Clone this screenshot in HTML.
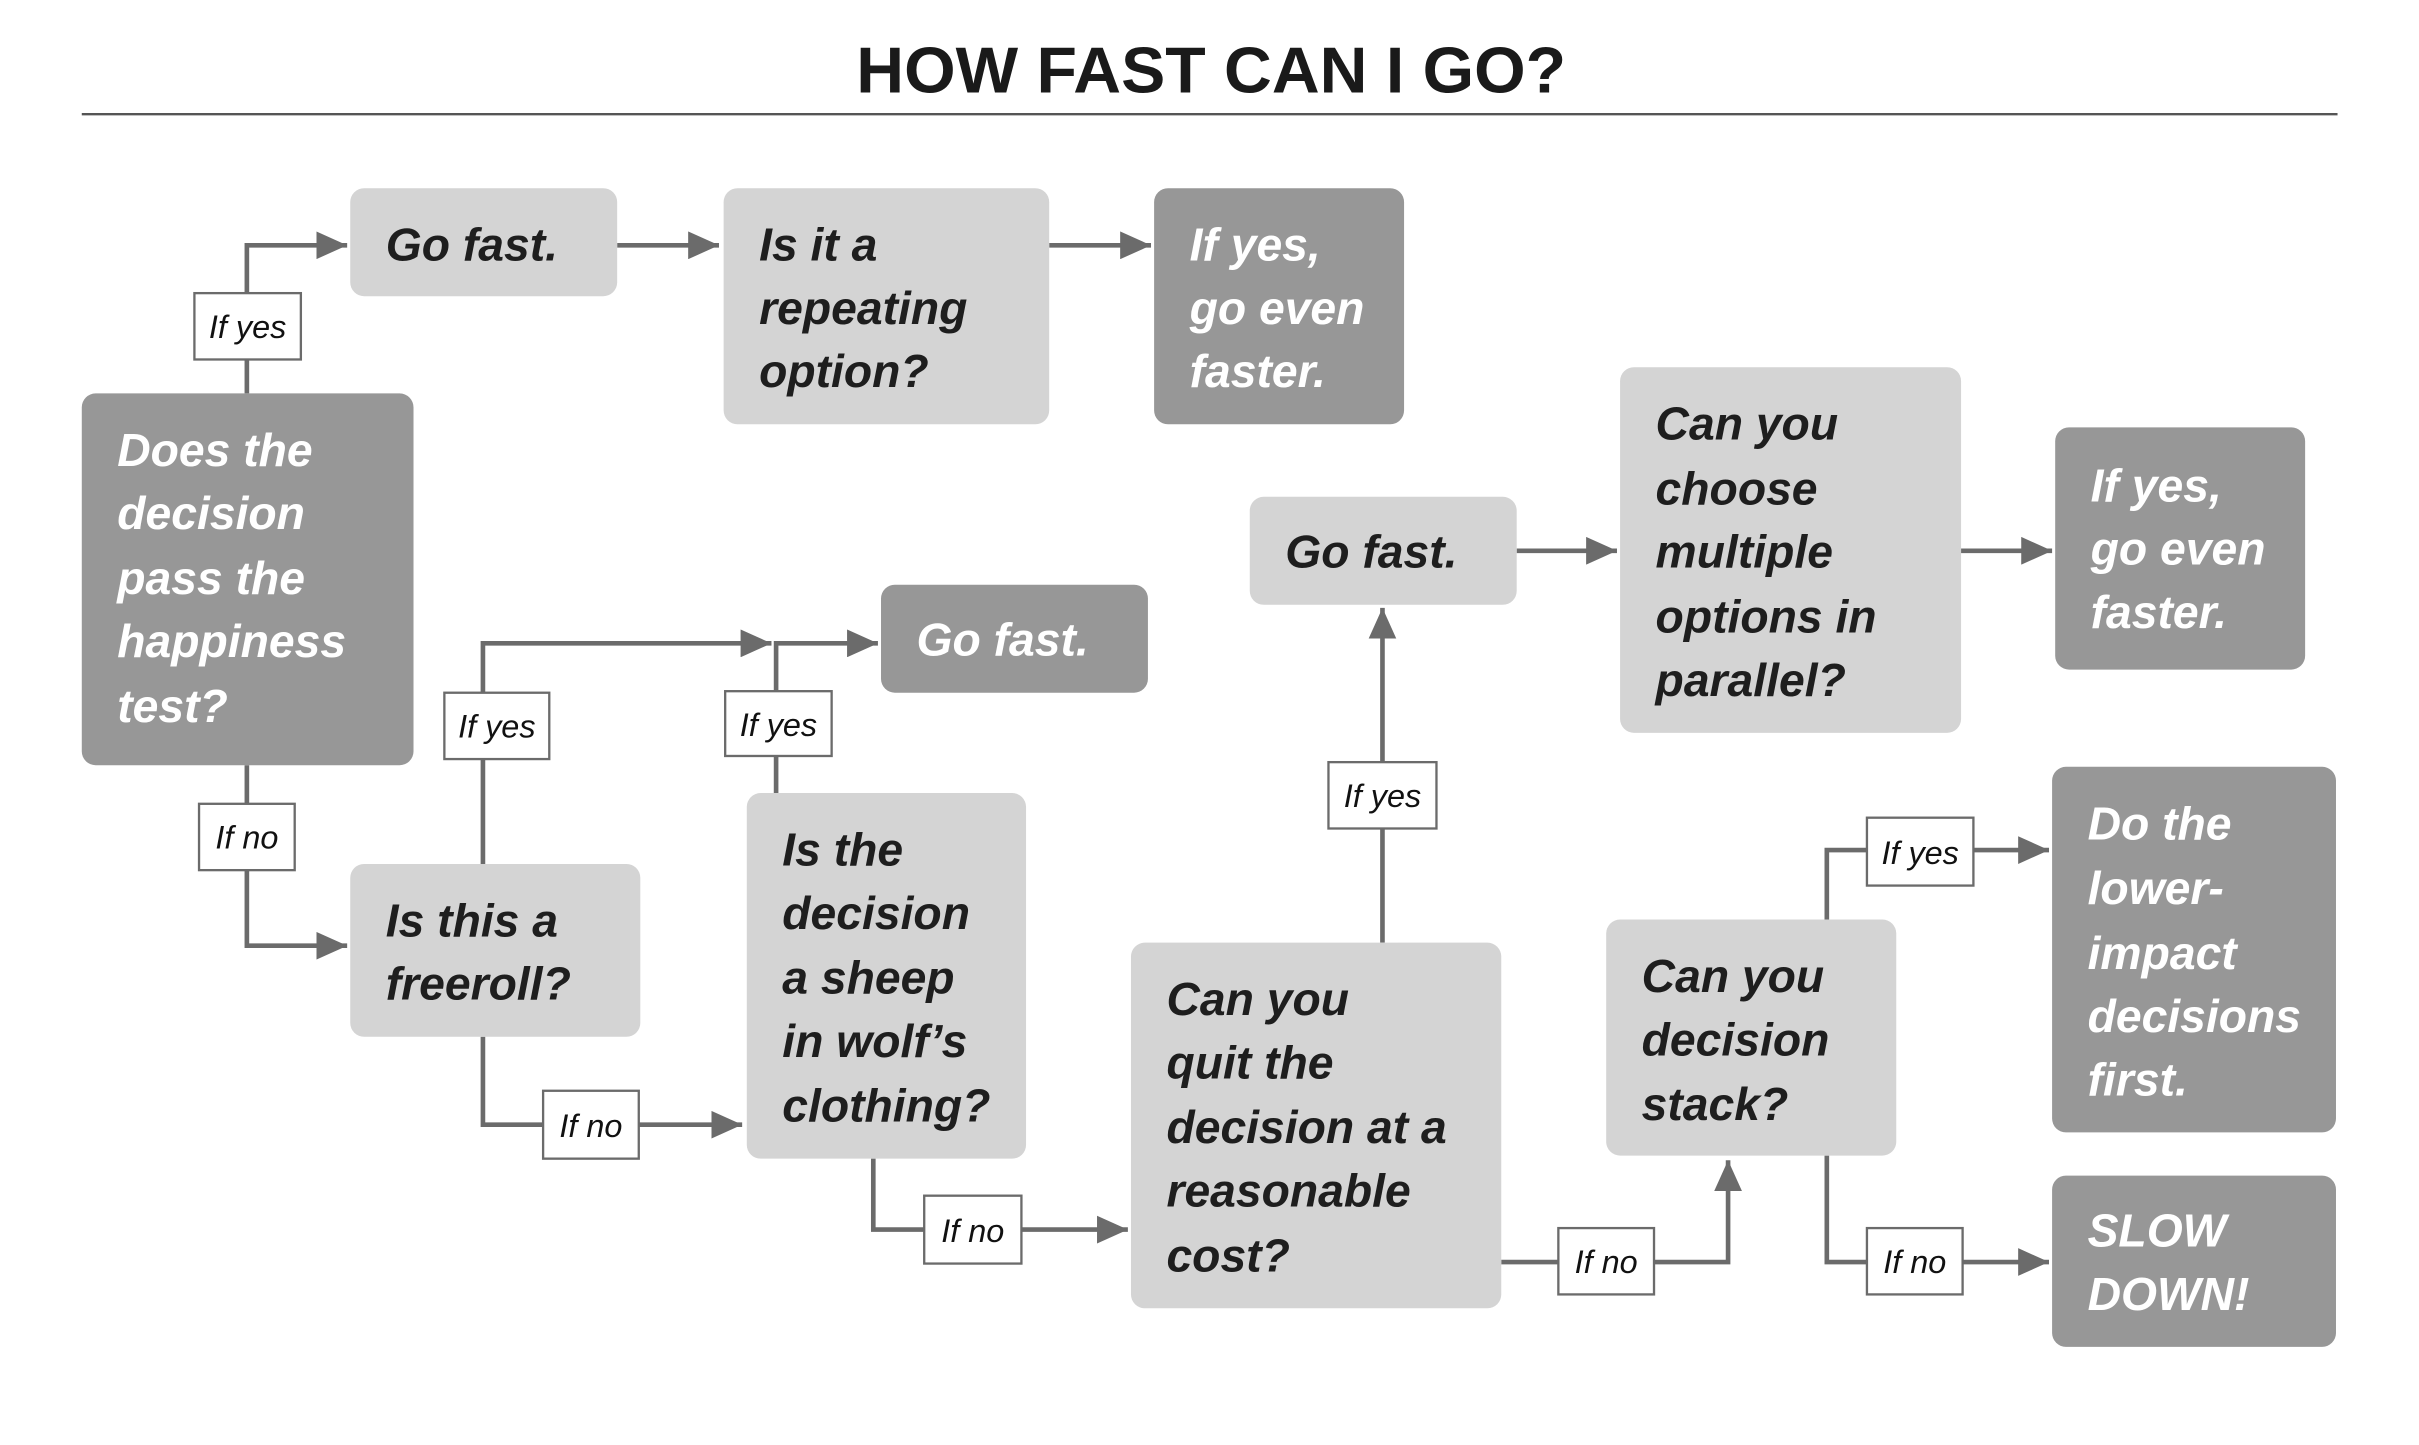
<!DOCTYPE html>
<html><head><meta charset="utf-8"><style>
html,body{margin:0;padding:0;background:#fff;}
svg{display:block;}
.t{font-family:"Liberation Sans",sans-serif;font-weight:bold;font-style:italic;font-size:30px;fill:#1e1e1e;}
.w{fill:#fff;}
.lb{font-family:"Liberation Sans",sans-serif;font-style:italic;font-size:21px;fill:#111;text-anchor:middle;}
.c{stroke:#6b6b6b;stroke-width:3;fill:none;}
.lbox{fill:#fff;stroke:#6b6b6b;stroke-width:1.5;}
</style></head><body>
<svg width="2419" height="1445" viewBox="0 0 1567.8 936.6" preserveAspectRatio="none" xmlns="http://www.w3.org/2000/svg">
<defs>
<marker id="a" viewBox="0 0 20 18" refX="20" refY="9" markerWidth="20" markerHeight="18" markerUnits="userSpaceOnUse" orient="auto">
<path d="M0,0 L20,9 L0,18 Z" fill="#6b6b6b"/></marker>
</defs>
<text x="555" y="60" textLength="460" lengthAdjust="spacingAndGlyphs" font-family="Liberation Sans,sans-serif" font-weight="bold" font-size="42" fill="#1a1a1a">HOW FAST CAN I GO?</text>
<line x1="53" y1="74" x2="1515" y2="74" stroke="#555" stroke-width="1.5"/>

<path class="c" d="M160,255 V159 H225" marker-end="url(#a)"/>
<path class="c" d="M400,159 H466" marker-end="url(#a)"/>
<path class="c" d="M680,159 H746" marker-end="url(#a)"/>
<path class="c" d="M160,496 V613 H225" marker-end="url(#a)"/>
<path class="c" d="M313,560 V417 H500" marker-end="url(#a)"/>
<path class="c" d="M503,514 V417 H569" marker-end="url(#a)"/>
<path class="c" d="M313,672 V729 H481" marker-end="url(#a)"/>
<path class="c" d="M566,751 V797 H731" marker-end="url(#a)"/>
<path class="c" d="M896,611 V394" marker-end="url(#a)"/>
<path class="c" d="M983,357 H1048" marker-end="url(#a)"/>
<path class="c" d="M1271,357 H1330" marker-end="url(#a)"/>
<path class="c" d="M973,818 H1120 V752" marker-end="url(#a)"/>
<path class="c" d="M1184,596 V551 H1328" marker-end="url(#a)"/>
<path class="c" d="M1184,749 V818 H1328" marker-end="url(#a)"/>

<g fill="#d4d4d4">
<rect x="227" y="122" width="173" height="70" rx="9"/>
<rect x="469" y="122" width="211" height="153" rx="9"/>
<rect x="227" y="560" width="188" height="112" rx="9"/>
<rect x="484" y="514" width="181" height="237" rx="9"/>
<rect x="733" y="611" width="240" height="237" rx="9"/>
<rect x="810" y="322" width="173" height="70" rx="9"/>
<rect x="1050" y="238" width="221" height="237" rx="9"/>
<rect x="1041" y="596" width="188" height="153" rx="9"/>
</g>
<g fill="#979797">
<rect x="748" y="122" width="162" height="153" rx="9"/>
<rect x="53" y="255" width="215" height="241" rx="9"/>
<rect x="571" y="379" width="173" height="70" rx="9"/>
<rect x="1332" y="277" width="162" height="157" rx="9"/>
<rect x="1330" y="497" width="184" height="237" rx="9"/>
<rect x="1330" y="762" width="184" height="111" rx="9"/>
</g>

<text class="t" x="250" y="169">Go fast.</text>
<text class="t" x="492" y="169">Is it a</text><text class="t" x="492" y="210">repeating</text><text class="t" x="492" y="251">option?</text>
<text class="t w" x="771" y="169">If yes,</text><text class="t w" x="771" y="210">go even</text><text class="t w" x="771" y="251">faster.</text>
<text class="t w" x="76" y="302">Does the</text><text class="t w" x="76" y="343">decision</text><text class="t w" x="76" y="385">pass the</text><text class="t w" x="76" y="426">happiness</text><text class="t w" x="76" y="468">test?</text>
<text class="t w" x="594" y="425">Go fast.</text>
<text class="t" x="250" y="607">Is this a</text><text class="t" x="250" y="648">freeroll?</text>
<text class="t" x="507" y="561">Is the</text><text class="t" x="507" y="602">decision</text><text class="t" x="507" y="644">a sheep</text><text class="t" x="507" y="685">in wolf’s</text><text class="t" x="507" y="727">clothing?</text>
<text class="t" x="756" y="658">Can you</text><text class="t" x="756" y="699">quit the</text><text class="t" x="756" y="741">decision at a</text><text class="t" x="756" y="782">reasonable</text><text class="t" x="756" y="824">cost?</text>
<text class="t" x="833" y="368">Go fast.</text>
<text class="t" x="1073" y="285">Can you</text><text class="t" x="1073" y="327">choose</text><text class="t" x="1073" y="368">multiple</text><text class="t" x="1073" y="410">options in</text><text class="t" x="1073" y="451">parallel?</text>
<text class="t w" x="1355" y="325">If yes,</text><text class="t w" x="1355" y="366">go even</text><text class="t w" x="1355" y="407">faster.</text>
<text class="t" x="1064" y="643">Can you</text><text class="t" x="1064" y="684">decision</text><text class="t" x="1064" y="726">stack?</text>
<text class="t w" x="1353" y="544">Do the</text><text class="t w" x="1353" y="586">lower-</text><text class="t w" x="1353" y="628">impact</text><text class="t w" x="1353" y="669">decisions</text><text class="t w" x="1353" y="710">first.</text>
<text class="t w" x="1353" y="808">SLOW</text><text class="t w" x="1353" y="849">DOWN!</text>

<rect class="lbox" x="126" y="190" width="69" height="43"/><text class="lb" x="160.5" y="219">If yes</text>
<rect class="lbox" x="129" y="521" width="62" height="43"/><text class="lb" x="160" y="550">If no</text>
<rect class="lbox" x="288" y="449" width="68" height="43"/><text class="lb" x="322" y="478">If yes</text>
<rect class="lbox" x="470" y="448" width="69" height="42"/><text class="lb" x="504.5" y="477">If yes</text>
<rect class="lbox" x="352" y="707" width="62" height="44"/><text class="lb" x="383" y="737">If no</text>
<rect class="lbox" x="599" y="775" width="63" height="44"/><text class="lb" x="630.5" y="805">If no</text>
<rect class="lbox" x="861" y="494" width="70" height="43"/><text class="lb" x="896" y="523">If yes</text>
<rect class="lbox" x="1010" y="796" width="62" height="43"/><text class="lb" x="1041" y="825">If no</text>
<rect class="lbox" x="1210" y="530" width="69" height="44"/><text class="lb" x="1244.5" y="560">If yes</text>
<rect class="lbox" x="1210" y="796" width="62" height="43"/><text class="lb" x="1241" y="825">If no</text>
</svg>
</body></html>
